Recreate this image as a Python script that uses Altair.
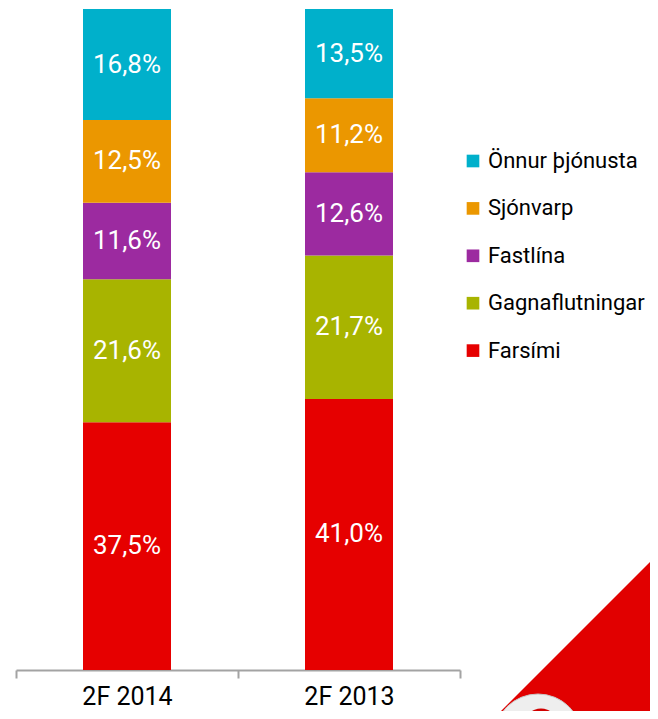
import altair as alt
import pandas as pd

periods = ["2F 2014", "2F 2013"]
categories = ["Farsími", "Gagnaflutningar", "Fastlína", "Sjónvarp", "Önnur þjónusta"]
values_2014 = [37.5, 21.6, 11.6, 12.5, 16.8]
values_2013 = [41.0, 21.7, 12.6, 11.2, 13.5]
colors = ["#e60000", "#a8b400", "#9c2aa0", "#eb9700", "#00b0cb"]
legend_order = ["Önnur þjónusta", "Sjónvarp", "Fastlína", "Gagnaflutningar", "Farsími"]
legend_colors = [colors[categories.index(c)] for c in legend_order]

rows = []
for period, vals in zip(periods, [values_2014, values_2013]):
    acc = 0.0
    for cat, v in zip(categories, vals):
        rows.append({"period": period, "cat": cat, "value": v,
                     "start": acc, "end": acc + v, "mid": acc + v / 2,
                     "label": f"{v:.1f}%".replace(".", ",")})
        acc += v
df = pd.DataFrame(rows)

FONT = "Roboto"

xaxis = alt.Axis(labelAngle=0, labelFontSize=25, labelColor="#000000",
                 labelFont=FONT, labelPadding=6,
                 domainColor="#a3a3a3", domainWidth=2,
                 tickColor="#a3a3a3", tickWidth=2, tickSize=8,
                 tickBand="extent", grid=False)
xscale = alt.Scale(paddingInner=0, paddingOuter=0)
yscale = alt.Scale(domain=[0, 100], nice=False, zero=True)

bars = alt.Chart(df).mark_bar(size=88).encode(
    x=alt.X("period:N", sort=periods, title=None, scale=xscale, axis=xaxis),
    y=alt.Y("start:Q", scale=yscale, axis=None),
    y2="end:Q",
    color=alt.Color("cat:N",
                    scale=alt.Scale(domain=legend_order, range=legend_colors),
                    legend=alt.Legend(title=None, orient="none", legendX=446, legendY=141,
                                      symbolType="square", symbolSize=160,
                                      symbolStrokeWidth=0, labelFontSize=22,
                                      labelFont=FONT, labelColor="#000000",
                                      labelOffset=4, rowPadding=25.4, labelLimit=300)),
)

labels = alt.Chart(df).mark_text(color="white", fontSize=26, font=FONT).encode(
    x=alt.X("period:N", sort=periods, title=None, scale=xscale, axis=xaxis),
    y=alt.Y("mid:Q", scale=yscale, axis=None),
    text="label:N",
)

deco_df = pd.DataFrame({"k": ["tri"]})
tri = alt.Chart(deco_df).mark_point(
    shape="M0,-1L0,0L-1,0Z", filled=True, color="#e10000", opacity=1, strokeWidth=0
).encode(x=alt.value(654), y=alt.value(721), size=alt.value(141376))
ball = alt.Chart(deco_df).mark_point(
    shape="circle", filled=True, color="#eeeeee", opacity=1, stroke="#c8c8c8", strokeWidth=1
).encode(x=alt.value(522), y=alt.value(729), size=alt.value(7744))
swirl = alt.Chart(deco_df).mark_point(
    shape="circle", filled=True, color="#d10000", opacity=1, strokeWidth=0
).encode(x=alt.value(525), y=alt.value(716), size=alt.value(1100))

chart = alt.layer(bars, labels, tri, ball, swirl).properties(
    width=444, height=661,
    autosize=alt.AutoSizeParams(type="none"),
    padding={"left": 8, "top": 1, "right": 190, "bottom": 41},
).configure(font=FONT).configure_view(stroke="transparent", strokeWidth=0).configure_axis(
    grid=False
)

chart.save("out.html", embed_options={"renderer": "svg", "actions": False})
